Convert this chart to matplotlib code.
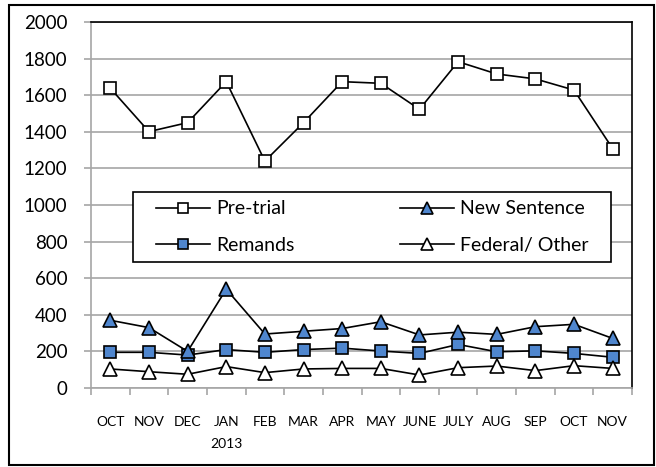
import matplotlib.pyplot as plt
from matplotlib.patches import Rectangle

months = ["OCT", "NOV", "DEC", "JAN\n2013", "FEB", "MAR", "APR", "MAY",
          "JUNE", "JULY", "AUG", "SEP", "OCT", "NOV"]
pre_trial = [1638, 1401, 1450, 1674, 1240, 1450, 1674, 1665, 1523, 1783, 1716, 1689, 1628, 1308]
new_sentence = [370, 330, 200, 540, 295, 310, 325, 362, 290, 305, 293, 335, 348, 271]
remands = [195, 195, 180, 210, 195, 210, 218, 202, 189, 238, 198, 203, 189, 168]
federal = [104, 89, 75, 117, 84, 104, 107, 107, 71, 111, 120, 95, 122, 107]

blue = "#4F86CE"
grid_gray = "#A6A6A6"

plt.rcParams['font.family'] = ['Lato', 'DejaVu Sans']

fig = plt.figure(figsize=(6.56, 4.67), dpi=100)
ax = fig.add_axes([91 / 656, 79 / 467, 541 / 656, 366 / 467])

x = list(range(len(months)))
ms = 8.5
ax.plot(x, pre_trial, color="black", lw=1.2, marker="s", ms=ms, mfc="white", mec="black", mew=1.2, label="Pre-trial", zorder=3)
ax.plot(x, remands, color="black", lw=1.2, marker="s", ms=ms, mfc=blue, mec="black", mew=1.2, label="Remands", zorder=3)
ax.plot(x, new_sentence, color="black", lw=1.2, marker="^", ms=ms + 1, mfc=blue, mec="black", mew=1.2, label="New Sentence", zorder=3)
ax.plot(x, federal, color="black", lw=1.2, marker="^", ms=ms + 1, mfc="white", mec="black", mew=1.2, label="Federal/ Other", zorder=3)

ax.set_xlim(-0.5, len(months) - 0.5)
ax.set_ylim(0, 2000)
ax.set_yticks(range(0, 2001, 200))
ax.yaxis.grid(True, color=grid_gray, lw=1.2)
ax.set_axisbelow(True)

ax.set_xticks(x)
ax.set_xticklabels(months, fontsize=10, linespacing=2.0, va="top")
ax.set_xticks([i - 0.5 for i in range(len(months) + 1)], minor=True)
ax.tick_params(axis="x", which="major", length=0, pad=20)
ax.tick_params(axis="x", which="minor", length=5, color=grid_gray, width=1.2)
ax.tick_params(axis="y", length=5, color=grid_gray, width=1.2, labelsize=13.5, pad=12)

for side in ["left", "bottom"]:
    ax.spines[side].set_color(grid_gray)
    ax.spines[side].set_linewidth(1.2)
for side in ["top", "right"]:
    ax.spines[side].set_color("black")
    ax.spines[side].set_linewidth(1.2)

# legend box drawn by hand, legend itself without frame
ax.add_patch(Rectangle((0.0776, 0.344), 0.884, 0.1915, transform=ax.transAxes,
                       facecolor="white", edgecolor="black", lw=1.2, zorder=4))
ax.legend(loc="center", bbox_to_anchor=(0.0776 + 0.884 / 2, 0.344 + 0.1915 / 2),
          ncol=2, fontsize=14, frameon=False, handlelength=2.8, markerscale=0.9,
          handletextpad=0.3, labelspacing=1.0, columnspacing=5.4)

fig.patches.append(Rectangle((9 / 656, 2 / 467), 645 / 656, 460 / 467, transform=fig.transFigure,
                             fill=False, edgecolor="black", lw=1.5))

fig.savefig("out.png", dpi=100)
